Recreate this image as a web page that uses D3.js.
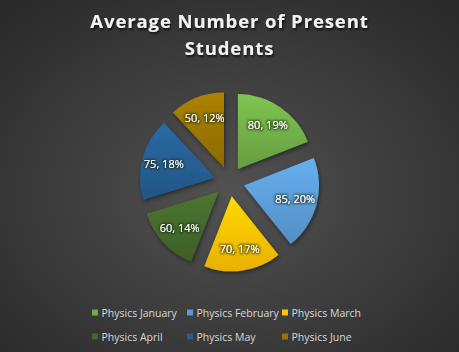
<!DOCTYPE html>
<html><head><meta charset="utf-8">
<script src="https://cdn.jsdelivr.net/npm/d3@7"></script>
<style>html,body{margin:0;padding:0;background:#2b2b2b;overflow:hidden}</style>
</head><body>
<svg id="chart" width="459" height="352"></svg>
<script>
const categories = ["Physics January","Physics February","Physics March","Physics April","Physics May","Physics June"];
const values = [80, 85, 70, 60, 75, 50];
const colors = ["#70ad47","#5b9bd5","#ffc000","#43682b","#255e91","#997300"];
const titleLines = ["Average Number of Present","Students"];

const W = 459, H = 352;
const svg = d3.select("#chart");
const defs = svg.append("defs");

const bg = defs.append("radialGradient").attr("id","bg").attr("cx","50%").attr("cy","55%").attr("r","70%");
bg.append("stop").attr("offset","0%").attr("stop-color","#525252");
bg.append("stop").attr("offset","100%").attr("stop-color","#2a2a2a");
svg.append("rect").attr("width",W).attr("height",H).attr("fill","url(#bg)");

const tf = defs.append("filter").attr("id","tshadow").attr("x","-20%").attr("y","-50%").attr("width","140%").attr("height","200%");
tf.append("feDropShadow").attr("dx",1).attr("dy",2).attr("stdDeviation",1.2).attr("flood-color","#000").attr("flood-opacity",0.7);
const sf = defs.append("filter").attr("id","sshadow").attr("x","-30%").attr("y","-30%").attr("width","160%").attr("height","160%");
sf.append("feDropShadow").attr("dx",1).attr("dy",2).attr("stdDeviation",2).attr("flood-color","#000").attr("flood-opacity",0.45);
const lf = defs.append("filter").attr("id","lglow").attr("x","-20%").attr("y","-50%").attr("width","140%").attr("height","200%");
lf.append("feMorphology").attr("in","SourceAlpha").attr("operator","dilate").attr("radius",0.8).attr("result","d");
lf.append("feGaussianBlur").attr("in","d").attr("stdDeviation",0.8).attr("result","b");
lf.append("feFlood").attr("flood-color","#1a2a10").attr("flood-opacity",0.75);
lf.append("feComposite").attr("in2","b").attr("operator","in").attr("result","g");
const lm = lf.append("feMerge"); lm.append("feMergeNode").attr("in","g"); lm.append("feMergeNode").attr("in","SourceGraphic");

colors.forEach((c,i)=>{
  const g = defs.append("linearGradient").attr("id","sg"+i).attr("x1",0).attr("y1",0).attr("x2",0).attr("y2",1);
  g.append("stop").attr("offset","0%").attr("stop-color",d3.color(c).brighter(0.35));
  g.append("stop").attr("offset","100%").attr("stop-color",d3.color(c).darker(0.25));
});

// Title
const title = svg.append("text").attr("x",229.5).attr("y",28).attr("text-anchor","middle")
  .attr("font-family","'Open Sans', sans-serif").attr("font-weight",700).attr("font-size",18.5)
  .attr("letter-spacing",0.9).attr("fill","#f2f2f2").attr("filter","url(#tshadow)");
titleLines.forEach((t,i)=> title.append("tspan").attr("x",229.5).attr("dy", i===0?0:27).text(t));

// Pie
const cx = 229.5, cy = 181.5, R = 75, explode = 15;
const total = d3.sum(values);
const pie = d3.pie().sort(null).value(d=>d)(values);
const arc = d3.arc().innerRadius(0).outerRadius(R);
const labelArc = d3.arc().innerRadius(53).outerRadius(53);
const g = svg.append("g").attr("transform",`translate(${cx},${cy})`);
const slices = g.selectAll("g.slice").data(pie).join("g").attr("class","slice")
  .attr("transform", d=>{ const a=(d.startAngle+d.endAngle)/2; return `translate(${explode*Math.sin(a)},${-explode*Math.cos(a)})`; });
slices.append("path").attr("d",arc).attr("fill",(d,i)=>`url(#sg${i})`).attr("filter","url(#sshadow)");
slices.append("text")
  .attr("transform", d=>`translate(${labelArc.centroid(d)})`)
  .attr("text-anchor","middle").attr("dy","0.35em")
  .attr("font-family","'Open Sans', sans-serif").attr("font-size",11).attr("fill","#ffffff")
  .attr("filter","url(#lglow)")
  .text(d=> `${d.data}, ${Math.round(d.data/total*100)}%`);

// Legend
const colX = [92, 187, 282], rowY = [313, 337];
const leg = svg.append("g").selectAll("g").data(categories).join("g")
  .attr("transform",(d,i)=>`translate(${colX[i%3]},${rowY[Math.floor(i/3)]})`);
leg.append("rect").attr("x",0).attr("y",-3.5).attr("width",6).attr("height",6).attr("fill",(d,i)=>colors[i]);
leg.append("text").attr("x",9.5).attr("dy","0.35em").attr("font-family","'Open Sans', sans-serif")
  .attr("font-size",10.5).attr("fill","#d9d9d9").text(d=>d);
</script>
</body></html>
